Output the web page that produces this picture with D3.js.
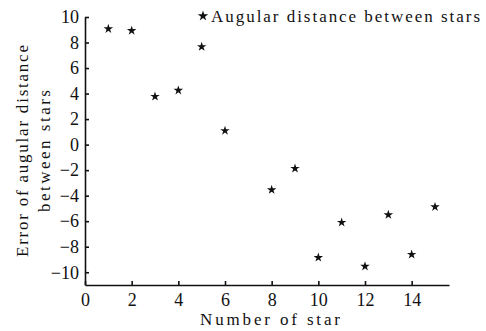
<!DOCTYPE html>
<meta charset="utf-8">
<body style="margin:0">
<script src="https://d3js.org/d3.v7.min.js"></script>
<script>
// star numbers and their angular distance error
var starNumber = [1, 2, 3, 4, 5, 6, 8, 9, 10, 11, 12, 13, 14, 15];
var errorValue = [9.07, 8.93, 3.77, 4.25, 7.67, 1.09, -3.54, -1.87, -8.85, -6.1, -9.54, -5.5, -8.61, -4.88];
var xTicks = [0, 2, 4, 6, 8, 10, 12, 14];
var yTicks = [-10, -8, -6, -4, -2, 0, 2, 4, 6, 8, 10];

var width = 486, height = 331;
var margin = {left: 85, right: 37, top: 17, bottom: 46};
var font = "'Liberation Serif', monospace";

var svg = d3.select("body").append("svg")
    .attr("width", width)
    .attr("height", height);

var xScale = d3.scaleLinear()
    .domain([0, 15.6])
    .range([margin.left, width - margin.right]);

var yScale = d3.scaleLinear()
    .domain([-11, 10])
    .range([height - margin.bottom, margin.top]);

// axes, ticks pointing inside the plot
var xAxis = svg.append("g")
    .attr("transform", "translate(0," + (height - margin.bottom) + ")")
    .call(d3.axisBottom(xScale).tickValues(xTicks).tickSizeInner(-4).tickSizeOuter(0).tickPadding(8));

var yAxis = svg.append("g")
    .attr("transform", "translate(" + margin.left + ",0)")
    .call(d3.axisLeft(yScale).tickValues(yTicks).tickSizeInner(-4).tickSizeOuter(0).tickPadding(6));

[xAxis, yAxis].forEach(function (ax) {
    ax.attr("font-size", 18);
    ax.selectAll("path, line").attr("stroke", "#111").attr("stroke-width", 1.6);
    ax.selectAll("text").attr("fill", "#111").style("font-family", font);
});

// points
var star = d3.symbol().type(d3.symbolStar).size(28);
svg.selectAll(".dot")
    .data(starNumber)
    .enter().append("path")
    .attr("class", "dot")
    .attr("fill", "#111")
    .attr("transform", function (d, i) {
        return "translate(" + xScale(d) + "," + yScale(errorValue[i]) + ")";
    })
    .attr("d", star);

// legend
svg.append("path")
    .attr("fill", "#111")
    .attr("transform", "translate(203,16)")
    .attr("d", d3.symbol().type(d3.symbolStar).size(34));
svg.append("text")
    .attr("x", 211)
    .attr("y", 22)
    .attr("font-size", 17)
    .attr("fill", "#111")
    .style("font-family", font)
    .attr("textLength", 269)
    .text("Augular distance between stars");

// axis titles
svg.append("text")
    .attr("x", 270)
    .attr("y", 325)
    .attr("text-anchor", "middle")
    .attr("font-size", 17)
    .attr("fill", "#111")
    .style("font-family", font)
    .attr("textLength", 140)
    .text("Number of star");

var yTitle = svg.append("g")
    .attr("transform", "translate(0,151) rotate(-90)")
    .attr("fill", "#111")
    .attr("font-size", 17)
    .attr("text-anchor", "middle");
yTitle.append("text")
    .attr("x", 0)
    .attr("y", 28)
    .style("font-family", font)
    .attr("textLength", 212)
    .text("Error of augular distance");
yTitle.append("text")
    .attr("x", 0)
    .attr("y", 50)
    .style("font-family", font)
    .attr("textLength", 122)
    .text("between stars");
</script>
</body>
